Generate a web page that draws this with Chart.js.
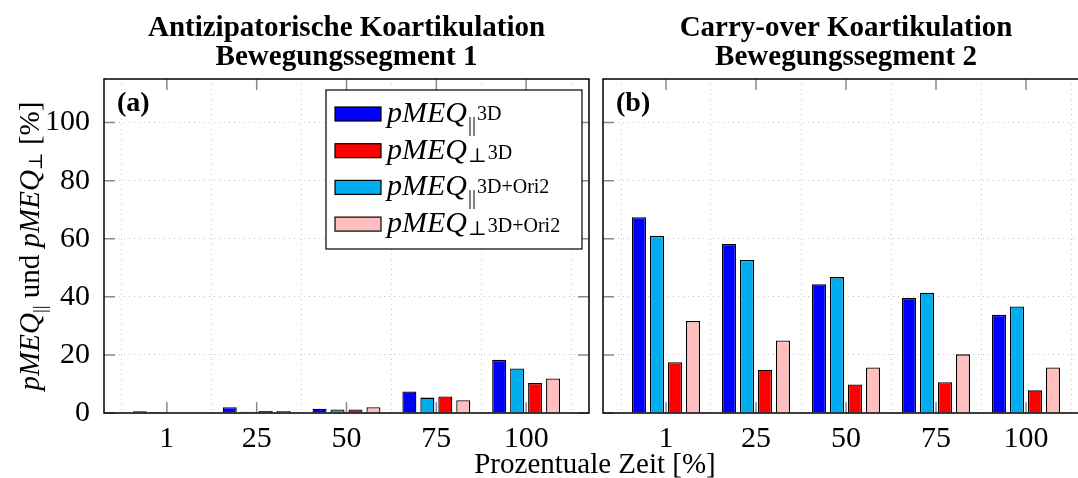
<!DOCTYPE html>
<html>
<head>
<meta charset="utf-8">
<script src="https://cdn.jsdelivr.net/npm/chart.js@4/dist/chart.umd.min.js"></script>
<style>
  html, body { margin: 0; padding: 0; background: #fff; overflow: hidden; width: 1078px; height: 478px; }
  #wrapA { position: absolute; left: 0; top: 0; width: 1078px; height: 478px; }
  #wrapB { position: absolute; left: 590px; top: 0; width: 510px; height: 478px; }
</style>
</head>
<body>
<div id="wrapA"><canvas id="segA"></canvas></div>
<div id="wrapB"><canvas id="segB"></canvas></div>
<script>
// Time points along the movement segment (percent of segment duration)
const timeLabels = ['1', '25', '50', '75', '100'];
const yTickValues = [0, 20, 40, 60, 80, 100];

// Series: parallel / perpendicular pMEQ for the 3D and 3D+Ori2 variants
const seriesSymbols = ['||', '||', '⊥', '⊥'];
const seriesMethods = ['3D', '3D+Ori2', '3D', '3D+Ori2'];
const seriesColors  = ['#0000ff', '#00aeef', '#ff0000', '#ffbfbf'];
const legendOrder   = [0, 2, 1, 3];

// Segment 1 – anticipatory coarticulation
const seg1Par3D    = [0.6, 2.0, 1.5, 7.4, 18.3];
const seg1ParOri2  = [0.35, 0.4, 1.2, 5.3, 15.3];
const seg1Perp3D   = [0, 0.7, 1.2, 5.7, 10.3];
const seg1PerpOri2 = [0, 0.7, 2.0, 4.4, 11.9];

// Segment 2 – carry-over coarticulation
const seg2Par3D    = [67.4, 58.2, 44.3, 39.6, 33.8];
const seg2ParOri2  = [61.0, 52.7, 46.8, 41.4, 36.7];
const seg2Perp3D   = [17.5, 14.9, 9.8, 10.6, 7.8];
const seg2PerpOri2 = [31.7, 25.0, 15.7, 20.2, 15.7];

const SERIF = '"Liberation Serif", "Times New Roman", "DejaVu Serif", serif';

function buildDatasets(seriesValues) {
  return seriesValues.map((vals, i) => ({
    label: 'pMEQ' + seriesSymbols[i] + ' ' + seriesMethods[i],
    symbol: seriesSymbols[i],
    method: seriesMethods[i],
    data: vals.map((v, k) => ({ x: k + 1, y: v })),
    backgroundColor: seriesColors[i],
    borderColor: '#000',
    borderWidth: 1.3,
    borderSkipped: 'start',
    categoryPercentage: 0.8,
    barPercentage: 0.78
  }));
}

// Draws a run of mixed-style text pieces starting at (x, y); returns total width
function drawPieces(ctx, pieces, x, y, measureOnly) {
  let cx = x;
  pieces.forEach(p => {
    ctx.font = p.font;
    if (!measureOnly) ctx.fillText(p.t, cx, y + (p.dy || 0));
    cx += ctx.measureText(p.t).width + (p.gap || 0);
  });
  return cx - x;
}

// Box, inward tick marks
const framePlugin = {
  id: 'frame',
  afterDatasetsDraw(chart) {
    const { ctx, chartArea: a, scales: { x, y } } = chart;
    ctx.save();
    ctx.strokeStyle = '#8a8a8a';
    ctx.lineWidth = 1.5;
    ctx.beginPath();
    x.ticks.forEach(t => {
      const px = x.getPixelForValue(t.value);
      ctx.moveTo(px, a.bottom); ctx.lineTo(px, a.bottom - 11);
      ctx.moveTo(px, a.top); ctx.lineTo(px, a.top + 11);
    });
    y.ticks.forEach(t => {
      const py = y.getPixelForValue(t.value);
      ctx.moveTo(a.left, py); ctx.lineTo(a.left + 11, py);
      ctx.moveTo(a.right, py); ctx.lineTo(a.right - 11, py);
    });
    ctx.stroke();
    ctx.strokeStyle = '#000';
    ctx.lineWidth = 1.5;
    ctx.strokeRect(a.left, a.top, a.right - a.left, a.bottom - a.top);
    ctx.restore();
  }
};

// Panel titles, panel tag, optional legend and axis titles
const annotPlugin = {
  id: 'annot',
  afterDraw(chart, args, opts) {
    const { ctx, chartArea: a } = chart;
    ctx.save();
    ctx.fillStyle = '#000';
    ctx.textBaseline = 'alphabetic';

    // two-line title centred over the plot
    ctx.font = 'bold 29px ' + SERIF;
    ctx.textAlign = 'center';
    const cx = (a.left + a.right) / 2;
    ctx.fillText(opts.title[0], cx, 36);
    ctx.fillText(opts.title[1], cx, 65);

    // panel tag
    ctx.textAlign = 'left';
    ctx.font = 'bold 28px ' + SERIF;
    ctx.fillText(opts.tag, a.left + 13, a.top + 32);

    if (opts.legend) {
      const w = 256, h = 159;
      const x0 = a.right - 7 - w, y0 = a.top + 11;
      ctx.fillStyle = '#fff';
      ctx.fillRect(x0, y0, w, h);
      ctx.strokeStyle = '#000';
      ctx.lineWidth = 1.2;
      ctx.strokeRect(x0, y0, w, h);
      legendOrder.forEach((di, row) => {
        const ds = chart.data.datasets[di];
        const sy = y0 + 17 + 36.7 * row;
        ctx.fillStyle = ds.backgroundColor;
        ctx.fillRect(x0 + 9, sy, 46, 14);
        ctx.strokeStyle = '#000';
        ctx.lineWidth = 1.2;
        ctx.strokeRect(x0 + 9, sy, 46, 14);
        ctx.fillStyle = '#000';
        const base = sy + 15;
        const isPar = ds.symbol === '||';
        drawPieces(ctx, [
          { t: 'pMEQ', font: 'italic 30px ' + SERIF, gap: 1 },
          { t: ds.symbol, font: '20px ' + SERIF, dy: isPar ? 9 : 3, gap: 1 },
          { t: ds.method, font: '20px ' + SERIF, dy: isPar ? -2 : 0 }
        ], x0 + 61, base);
      });
    }

    if (opts.yTitle) {
      const pieces = [
        { t: 'pMEQ', font: 'italic 29px ' + SERIF },
        { t: '||', font: '19px ' + SERIF, dy: 7 },
        { t: ' und ', font: '29px ' + SERIF },
        { t: 'pMEQ', font: 'italic 29px ' + SERIF },
        { t: '⊥', font: '19px ' + SERIF, dy: 3 },
        { t: ' [%]', font: '29px ' + SERIF }
      ];
      ctx.save();
      ctx.translate(39, (a.top + a.bottom) / 2);
      ctx.rotate(-Math.PI / 2);
      ctx.fillStyle = '#000';
      const tw = drawPieces(ctx, pieces, 0, 0, true);
      drawPieces(ctx, pieces, -tw / 2, 0);
      ctx.restore();
    }

    if (opts.xTitle) {
      ctx.font = '29px ' + SERIF;
      ctx.textAlign = 'center';
      ctx.fillStyle = '#000';
      ctx.fillText(opts.xTitle, 595, 473);
    }
    ctx.restore();
  }
};

function makeChart(canvasId, seriesValues, cfg) {
  return new Chart(document.getElementById(canvasId), {
    type: 'bar',
    data: { datasets: buildDatasets(seriesValues) },
    plugins: [framePlugin, annotPlugin],
    options: {
      responsive: true,
      maintainAspectRatio: false,
      animation: false,
      layout: { padding: { left: 0, right: cfg.padRight, top: 79, bottom: 0 } },
      plugins: {
        legend: { display: false },
        tooltip: { enabled: false },
        annot: cfg.annot
      },
      scales: {
        x: {
          type: 'linear',
          min: 0.3,
          max: 5.7,
          offset: false,
          afterBuildTicks: s => { s.ticks = timeLabels.map((_, k) => ({ value: k + 1 })); },
          afterFit: s => { s.height = 65; },
          ticks: {
            callback: v => timeLabels[v - 1],
            font: { family: SERIF, size: 30 },
            color: '#000',
            padding: 8,
            maxRotation: 0,
            autoSkip: false
          },
          grid: { color: '#c4c4c4', lineWidth: 1, drawTicks: false },
          border: { display: false, dash: [1, 4] }
        },
        y: {
          min: 0,
          max: 115,
          afterBuildTicks: s => { s.ticks = yTickValues.map(v => ({ value: v })); },
          afterFit: s => { s.width = cfg.yWidth; },
          ticks: {
            display: cfg.yLabels,
            font: { family: SERIF, size: 30 },
            color: '#000',
            padding: 14
          },
          grid: { color: '#c4c4c4', lineWidth: 1, drawTicks: false },
          border: { display: false, dash: [1, 4] }
        }
      }
    }
  });
}

makeChart('segA', [seg1Par3D, seg1ParOri2, seg1Perp3D, seg1PerpOri2], {
  padRight: 1078 - 589,
  yWidth: 104,
  yLabels: true,
  annot: {
    title: ['Antizipatorische Koartikulation', 'Bewegungssegment 1'],
    tag: '(a)',
    legend: true,
    yTitle: true,
    xTitle: 'Prozentuale Zeit [%]'
  }
});

makeChart('segB', [seg2Par3D, seg2ParOri2, seg2Perp3D, seg2PerpOri2], {
  padRight: 11,
  yWidth: 13,
  yLabels: false,
  annot: {
    title: ['Carry-over Koartikulation', 'Bewegungssegment 2'],
    tag: '(b)',
    legend: false,
    yTitle: false,
    xTitle: null
  }
});
</script>
</body>
</html>
